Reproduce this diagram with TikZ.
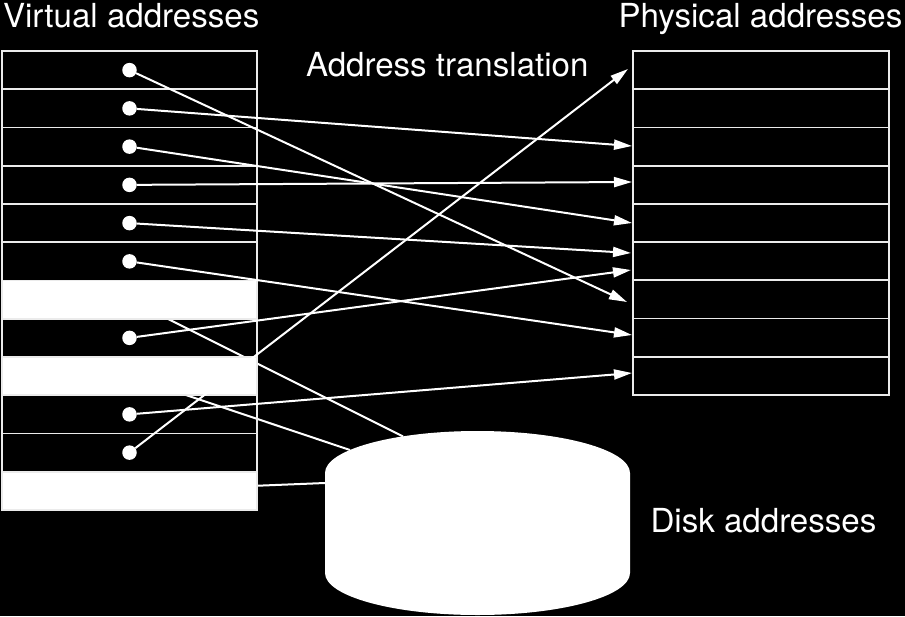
\documentclass[tikz,border=0pt]{standalone}
\usepackage{fontspec}
\setmainfont{TeX Gyre Heros}
\usetikzlibrary{arrows.meta,calc}
\pgfdeclarelayer{bg}
\pgfsetlayers{bg,main}
\begin{document}
\begin{tikzpicture}[x=1pt,y=-1pt,
  rowbox/.style={draw=white!92!black,line width=1.8pt,minimum width=255pt,minimum height=38.25pt,inner sep=0pt,outer sep=0pt},
  prowbox/.style={rowbox,minimum width=256pt,minimum height=38.22pt},
  freebox/.style={rowbox,fill=white},
  dot/.style={circle,fill=white,minimum size=14.5pt,inner sep=0pt,outer sep=0pt},
  conn/.style={white,line width=2pt},
  map/.style={conn,-{Triangle[length=18pt,width=10pt]}},
  lbl/.style={white,font=\fontsize{33.1}{36}\selectfont,anchor=base west,inner sep=0pt,outer sep=0pt}
]
\begin{pgfonlayer}{bg}
\fill[black] (0,0) rectangle (905,616);
\end{pgfonlayer}
\useasboundingbox (0,0) rectangle (905,616);

% labels
\node[lbl] (vlab) at (3,27.3) {Virtual addresses};
\node[lbl] (plab) at (618.5,27.3) {Physical addresses};
\node[lbl] (alab) at (306,76) {Address translation};
\node[lbl] (dlab) at (650.5,532) {Disk addresses};

% virtual pages
\foreach \i in {0,1,2,3,4,5,7,9,10}
  \node[rowbox] (v\i) at (129.5,{51+19.125+38.25*\i}) {};
\foreach \i in {6,8,11}
  \node[freebox] (v\i) at (129.5,{51+19.125+38.25*\i}) {};

% physical frames
\foreach \i in {0,...,8}
  \node[prowbox] (p\i) at (761,{51+19.11+38.22*\i}) {};

% dots
\foreach \i in {0,1,2,3,4,5,7,9,10}
  \node[dot] (d\i) at (v\i.center) {};

% disk
\fill[white] (325,473) arc[start angle=180,end angle=0,x radius=152.5pt,y radius=42pt]
  -- (630,573) arc[start angle=0,end angle=-180,x radius=152.5pt,y radius=42pt] -- cycle;
\coordinate (k6) at (403,436.4);
\coordinate (k8) at (350,450);
\coordinate (k11) at (325,483);

% connectors to disk (hidden under free pages)
\begin{pgfonlayer}{bg}
\draw[conn] (v6.center) -- (k6);
\draw[conn] (v8.center) -- (k8);
\draw[conn] (v11.center) -- (k11);
\end{pgfonlayer}

% arrow tips
\coordinate (t0) at (628,69);
\coordinate (t2) at (632,146);
\coordinate (t3) at (632,182);
\coordinate (t4) at (632,223);
\coordinate (t5a) at (631,253);
\coordinate (t5b) at (631,270);
\coordinate (t6) at (627,302);
\coordinate (t7) at (632,335);
\coordinate (t8) at (632,373);

\draw[map] (d10) -- (t0);
\draw[map] (d1) -- (t2);
\draw[map] (d3) -- (t3);
\draw[map] (d2) -- (t4);
\draw[map] (d4) -- (t5a);
\draw[map] (d7) -- (t5b);
\draw[map] (d0) -- (t6);
\draw[map] (d5) -- (t7);
\draw[map] (d9) -- (t8);
\end{tikzpicture}
\end{document}
